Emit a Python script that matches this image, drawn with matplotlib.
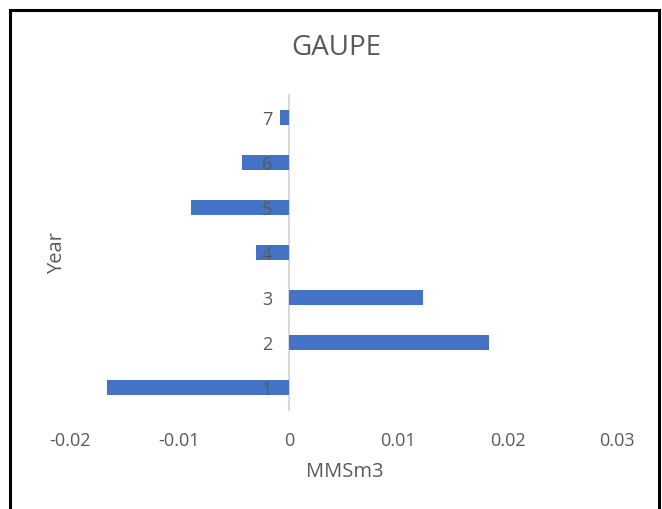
import matplotlib.pyplot as plt
from matplotlib.patches import Rectangle

years = ["1", "2", "3", "4", "5", "6", "7"]
values = [-0.0166, 0.0183, 0.0123, -0.0030, -0.0089, -0.0043, -0.0008]
x_ticks = [-0.02, -0.01, 0, 0.01, 0.02, 0.03]
x_tick_labels = ["-0.02", "-0.01", "0", "0.01", "0.02", "0.03"]

text_color = "#595959"
bar_color = "#4472C4"

plt.rcParams["font.family"] = ["Open Sans", "DejaVu Sans"]

fig = plt.figure(figsize=(6.62, 5.09), dpi=100)
ax = fig.add_axes([70 / 662, 0.1945, 547 / 662, 0.618])

pos = list(range(1, len(years) + 1))
ax.barh(pos, values, height=0.33, color=bar_color, zorder=1)

ax.set_xlim(-0.02, 0.03)
ax.set_ylim(0.5, len(years) + 0.5)
ax.set_xticks(x_ticks)
ax.set_xticklabels(x_tick_labels)
ax.set_yticks(pos)
ax.set_yticklabels(years)

for s in ["top", "right", "bottom"]:
    ax.spines[s].set_visible(False)
ax.spines["left"].set_position(("data", 0))
ax.spines["left"].set_color("#D9D9D9")
ax.spines["left"].set_linewidth(1.5)
ax.spines["left"].set_zorder(0.5)

ax.tick_params(axis="x", length=0, pad=16, labelsize=13, labelcolor=text_color)
ax.tick_params(axis="y", length=0, pad=12, labelsize=13, labelcolor=text_color)

fig.text(336 / 662, 1 - 48 / 509, "GAUPE", ha="center", va="center",
         fontsize=20, color=text_color)
fig.text(345 / 662, 1 - 472 / 509, "MMSm3", ha="center", va="center",
         fontsize=14.5, color=text_color)
fig.text(57 / 662, 1 - 253 / 509, "Year", ha="center", va="center",
         rotation=90, fontsize=14.5, color=text_color)

# frame around the chart area
fig.patches.append(Rectangle((10 / 662, -0.05), 649 / 662, 1.05 - 10 / 509,
                             transform=fig.transFigure, fill=False,
                             edgecolor="black", linewidth=2.2))

fig.savefig("out.png", dpi=100)
